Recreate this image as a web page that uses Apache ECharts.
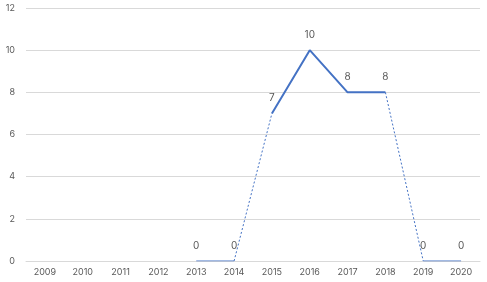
<!DOCTYPE html>
<html><head><meta charset="utf-8">
<script src="https://cdn.jsdelivr.net/npm/echarts@6/dist/echarts.min.js"></script>
<style>html,body{margin:0;padding:0;background:#fff}#c{width:487px;height:282px}</style>
</head><body><div id="c"></div>
<script>
var years = ['2009','2010','2011','2012','2013','2014','2015','2016','2017','2018','2019','2020'];
var values = [null,null,null,null,0,0,7,10,8,8,0,0];
var mainValues = [null,null,null,null,null,null,7,10,8,8,null,null];
var dashedValues = [null,null,null,null,null,0,7,null,null,8,0,null];
var thinValues = [null,null,null,null,0,0,null,null,null,null,0,0];
var yTicks = [0,2,4,6,8,10,12];

var chart = echarts.init(document.getElementById('c'), null, {renderer:'canvas'});
var lbl = {show:true, position:'top', color:'#595959', fontSize:10, fontFamily:'Inter, sans-serif', distance:9};
chart.setOption({
  animation:false,
  grid:{left:26, right:7, top:8, bottom:21},
  xAxis:{type:'category', data:years, boundaryGap:true,
    axisLine:{lineStyle:{color:'#d9d9d9'}}, axisTick:{show:false},
    axisLabel:{color:'#595959', fontSize:9, fontFamily:'Inter, sans-serif', margin:7}},
  yAxis:{type:'value', min:yTicks[0], max:yTicks[yTicks.length-1], interval:2,
    axisLine:{show:false}, axisTick:{show:false},
    splitLine:{lineStyle:{color:'#d9d9d9'}},
    axisLabel:{color:'#595959', fontSize:9, fontFamily:'Inter, sans-serif', margin:11}},
  series:[
    {type:'line', data:thinValues, symbol:'none', lineStyle:{color:'#4472c4', width:1}, connectNulls:false},
    {type:'line', data:dashedValues, symbol:'none', lineStyle:{color:'#4472c4', width:1, type:[2,2]}, connectNulls:false},
    {type:'line', data:mainValues, symbol:'none', lineStyle:{color:'#4472c4', width:2}, connectNulls:false},
    {type:'line', data:values, symbol:'circle', symbolSize:2, showSymbol:true, showAllSymbol:true,
      itemStyle:{color:'rgba(0,0,0,0)', borderWidth:0}, lineStyle:{width:0, color:'rgba(0,0,0,0)'},
      label:lbl, connectNulls:false, z:5}
  ]
});
</script></body></html>
